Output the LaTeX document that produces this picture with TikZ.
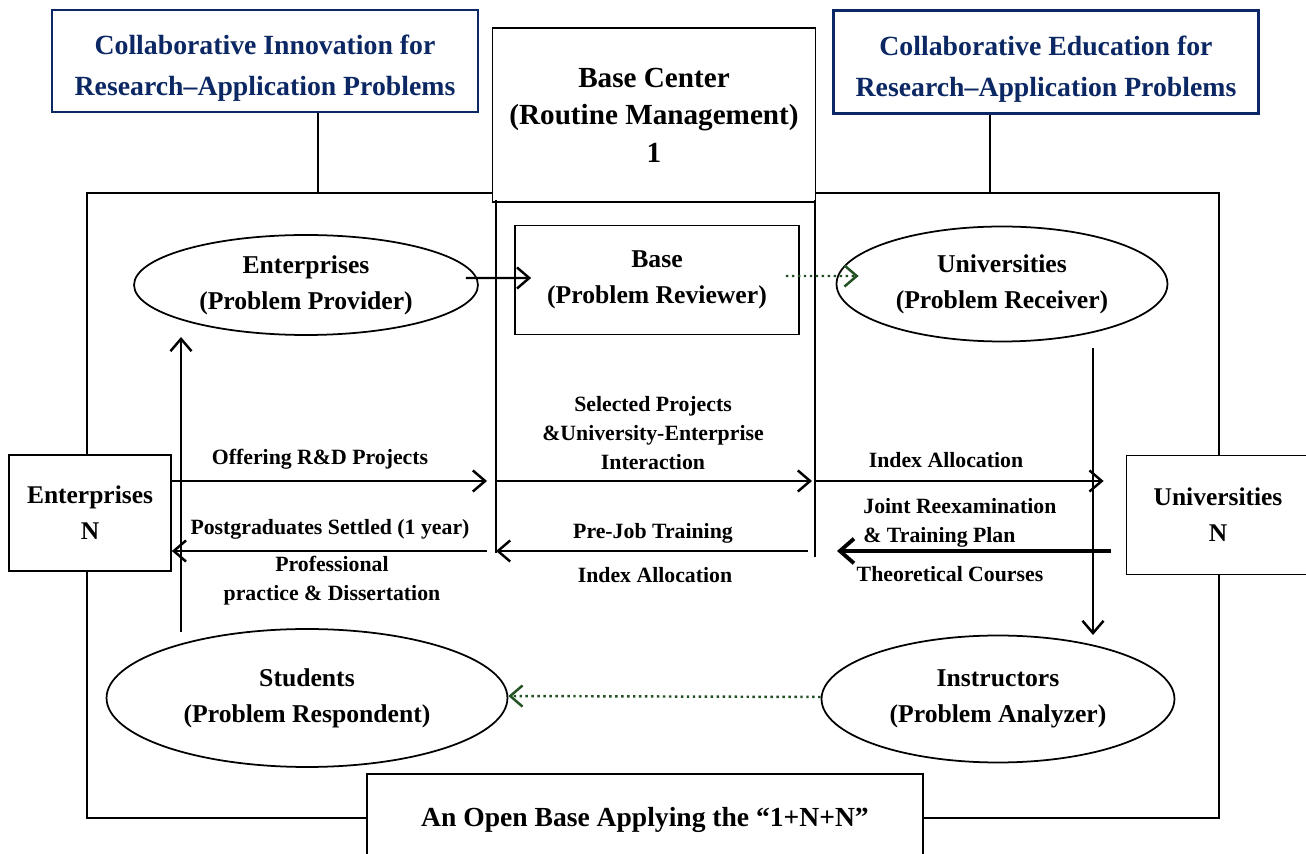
\documentclass[tikz,border=0pt]{standalone}
\usepackage{fontspec}
\setmainfont{Liberation Serif}
\usetikzlibrary{shapes.geometric,arrows.meta}

\definecolor{navy}{RGB}{12,40,100}
\definecolor{leaf}{RGB}{35,80,35}

\tikzset{
  box/.style={draw, line width=1pt, fill=white, inner sep=0pt, align=center},
  bluebox/.style={box, draw=navy, line width=1.6pt, text=navy,
    font=\fontsize{15.8}{23.3}\selectfont\bfseries},
  oval/.style={draw, ellipse, line width=1pt, fill=white, inner sep=0pt,
    align=center, font=\fontsize{14.6}{20.5}\selectfont\bfseries},
  lbl/.style={inner sep=0pt, align=center, font=\fontsize{12.4}{16.5}\selectfont\bfseries},
  arr/.style={-{Straight Barb[length=7pt,width=12pt,line width=1.4pt]}, line width=1.4pt},
  dotarr/.style={arr, draw=leaf, dotted},
}

\begin{document}
\begin{tikzpicture}[x=0.02cm, y=-0.02cm]
\useasboundingbox (0,0) rectangle (1306,854);

% outer frame
\coordinate (frameTL) at (87,193);
\coordinate (frameBR) at (1219,818);
\coordinate (linkL) at (318,193);
\coordinate (linkR) at (990,193);
\draw[line width=0.8pt] (frameTL) rectangle (frameBR);

% top row
\node[bluebox, minimum width=8.52cm, minimum height=2.04cm] (innov) at (265,61)
  {\rule{0pt}{19pt}Collaborative Innovation for\\Research–Application Problems};
\node[bluebox, minimum width=8.5cm, minimum height=2.06cm] (edu) at (1046,62)
  {\rule{0pt}{19pt}Collaborative Education for\\Research–Application Problems};
\node[box, minimum width=6.46cm, minimum height=3.48cm,
  font=\fontsize{16.6}{21.3}\selectfont\bfseries] (center) at (654,115)
  {Base Center\\(Routine Management)\\1};
\draw[line width=0.8pt] (innov.south -| linkL) -- (linkL);
\draw[line width=0.8pt] (edu.south -| linkR) -- (linkR);

% columns under the base center
\coordinate (colL) at (496,200);
\coordinate (colR) at (815,200);
\draw[line width=0.8pt] (colL) -- ++(0,353);
\draw[line width=0.8pt] (colR) -- ++(0,357);

% side boxes
\node[box, minimum width=3.24cm, minimum height=2.32cm,
  font=\fontsize{14.5}{20.5}\selectfont\bfseries] (entN) at (90,513) {Enterprises\\N};
\node[box, minimum width=3.66cm, minimum height=2.38cm,
  font=\fontsize{14.5}{20.5}\selectfont\bfseries] (uniN) at (1218,515) {Universities\\N};

% roles
\node[oval, minimum width=6.88cm, minimum height=2cm] (ent) at (306,285)
  {Enterprises\\(Problem Provider)};
\node[box, minimum width=5.68cm, minimum height=2.18cm,
  font=\fontsize{14.6}{20.5}\selectfont\bfseries] (review) at (657,280)
  {Base\\(Problem Reviewer)};
\node[oval, minimum width=6.62cm, minimum height=2.3cm] (uni) at (1002,284)
  {Universities\\(Problem Receiver)};
\node[oval, minimum width=8.02cm, minimum height=2.76cm] (stu) at (307,698)
  {Students\\(Problem Respondent)};
\node[oval, minimum width=7.06cm, minimum height=2.54cm] (ins) at (998,699)
  {Instructors\\(Problem Analyzer)};

% bottom box
\node[box, minimum width=11.12cm, minimum height=2.6cm] (openbox) at (645,839) {};
\node[inner sep=0pt, font=\fontsize{15.7}{20}\selectfont\bfseries] (opentxt) at (645,820)
  {An Open Base Applying the “1+N+N”};

% rows of flows
\coordinate (rowA) at (0,481);
\coordinate (rowB) at (0,551);
\coordinate (upS) at (181,632);
\coordinate (upE) at (181,337);
\coordinate (dnS) at (1093,348);
\coordinate (dnE) at (1093,635);

\draw[arr, shorten <=-0.26cm, shorten >=-0.34cm] ([yshift=0.14cm]ent.east) -- ([yshift=0.04cm]review.west);
\draw[dotarr, shorten <=-0.28cm, shorten >=-0.46cm] ([yshift=0.08cm]review.east) -- ([yshift=0.16cm]uni.west);
\draw[arr] (upS) -- (upE);
\draw[arr] (dnS) -- (dnE);
\draw[dotarr] ([yshift=0.04cm]ins.west) -- ([yshift=0.04cm]stu.east);

\draw[arr, shorten >=0.18cm] (entN.east |- rowA) -- (colL |- rowA);
\draw[arr, shorten >=0.06cm] (colL |- rowA) -- (colR |- rowA);
\draw[arr, shorten >=0.44cm] (colR |- rowA) -- (uniN.west |- rowA);

\draw[arr, shorten <=0.18cm] (colL |- rowB) -- (entN.east |- rowB);
\draw[arr, shorten <=0.14cm] (colR |- rowB) -- (colL |- rowB);

% labels
\node[lbl] (offer) at (320,459) {Offering R\&D Projects};
\node[lbl] (settled) at (330,529) {Postgraduates Settled (1 year)};
\node[lbl] (practice) at (332,581) {Professional\\practice \& Dissertation};
\node[lbl] (selected) at (653,433) {Selected Projects\\\&University-Enterprise\\Interaction};
\node[lbl] (prejob) at (653,533) {Pre-Job Training};
\node[lbl] (indexL) at (655,575) {Index Allocation};
\node[lbl] (indexR) at (946,460) {Index Allocation};
\node[lbl, align=left, anchor=west] (joint) at (863,523) {Joint Reexamination\\\& Training Plan};
\node[lbl] (theory) at (950,574) {Theoretical Courses};

\draw[-{Straight Barb[length=8pt,width=14pt,line width=2.2pt]}, line width=2.4pt,
  shorten <=0.3cm, shorten >=0.44cm] (uniN.west |- rowB) -- (colR |- rowB);
\end{tikzpicture}
\end{document}
